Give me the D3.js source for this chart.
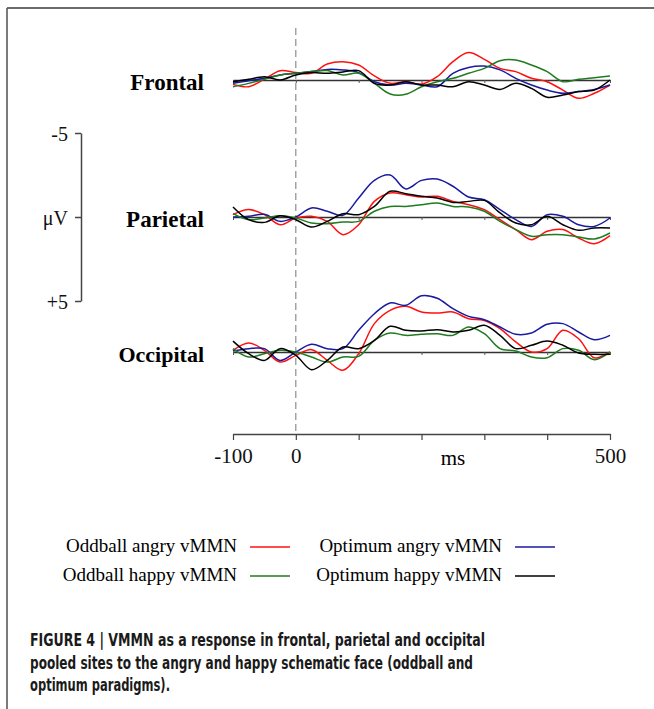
<!DOCTYPE html>
<html>
<head>
<meta charset="utf-8">
<script src="https://cdn.jsdelivr.net/npm/d3@7"></script>
<style>
  html, body { margin: 0; padding: 0; background: #fff; }
  svg { display: block; }
</style>
</head>
<body>
<div id="chart"></div>
<script>
// time points (ms) for every trace
var times = [-100, -75, -50, -25, 0, 25, 50, 75, 100, 125, 150, 175, 200,
  225, 250, 275, 300, 325, 350, 375, 400, 425, 450, 475, 500];

var panels = ["Frontal", "Parietal", "Occipital"];
var seriesNames = ["Oddball angry vMMN", "Optimum angry vMMN", "Oddball happy vMMN", "Optimum happy vMMN"];
var seriesColours = ["#ff1010", "#1a1aa0", "#207a20", "#000000"];

// amplitudes in microvolts (negative is drawn up)
var frontalOddAngry = [0.26, 0.40, -0.05, -0.55, -0.44, -0.40, -0.95, -1.09, -0.89, -0.24, 0.20, 0.10, 0.24,
  -0.20, -1.09, -1.63, -1.23, -0.69, -0.50, -0.10, 0.10, 0.60, 1.09, 0.79, 0.30];
var frontalOptAngry = [0.20, 0.04, -0.10, -0.30, -0.40, -0.50, -0.63, -0.60, -0.44, 0.10, 0.30, 0.20, 0.30,
  0.40, -0.40, -0.75, -0.83, -0.60, -0.10, 0.30, 0.60, 0.79, 0.69, 0.56, 0.30];
var frontalOddHappy = [0.40, 0.20, -0.04, -0.30, -0.40, -0.50, -0.56, -0.30, -0.40, 0.20, 0.83, 0.85, 0.40,
  0.10, -0.10, -0.40, -0.69, -1.15, -1.19, -0.89, -0.50, 0.10, -0.04, -0.14, -0.24];
var frontalOptHappy = [0.10, -0.04, -0.20, 0.00, -0.30, -0.44, -0.40, -0.48, -0.56, 0.20, 0.30, 0.10, 0.30,
  0.30, 0.40, 0.10, 0.30, 0.56, 0.20, 0.50, 1.03, 0.89, 0.69, 0.60, 0.00];

var parietalOddAngry = [-0.14, -0.44, -0.14, 0.46, 0.06, -0.04, 0.26, 1.05, 0.46, -0.93, -1.43, -1.33, -1.19,
  -1.23, -0.93, -0.73, -0.44, 0.16, 0.75, 1.35, 0.85, 0.75, 1.25, 1.59, 1.11];
var parietalOptAngry = [0.00, -0.04, -0.16, 0.26, 0.00, -0.54, -0.34, -0.10, -1.13, -2.18, -2.50, -1.67, -2.18,
  -2.26, -1.83, -1.19, -1.03, -0.44, 0.16, 0.56, -0.14, -0.04, 0.46, 0.56, 0.06];
var parietalOddHappy = [-0.20, 0.16, 0.06, -0.08, 0.06, 0.36, 0.40, 0.30, 0.26, -0.34, -0.63, -0.63, -0.73,
  -0.83, -0.63, -0.60, -0.34, 0.26, 0.75, 1.15, 1.05, 1.05, 1.19, 1.31, 0.95];
var parietalOptHappy = [-0.60, 0.16, 0.32, -0.08, 0.16, 0.60, 0.26, -0.20, -0.14, -0.63, -1.53, -1.39, -1.23,
  -1.13, -0.87, -0.93, -0.99, -0.24, 0.36, 0.46, -0.04, 0.46, 0.79, 0.65, 0.65];

var occipitalOddAngry = [-0.10, -0.54, -0.10, 0.60, 0.20, -0.14, 0.50, 1.09, 0.10, -1.69, -2.48, -2.72, -2.38,
  -2.32, -2.38, -1.98, -1.88, -1.39, -0.60, 0.00, -0.20, -1.29, -0.79, 0.34, 0.00];
var occipitalOptAngry = [-0.06, -0.20, -0.20, 0.50, 0.00, -0.46, -0.20, -0.20, -1.29, -2.28, -2.92, -2.78, -3.35,
  -3.20, -2.58, -2.12, -1.92, -1.49, -1.05, -1.13, -1.65, -1.69, -1.19, -0.73, -0.99];
var occipitalOddHappy = [-0.20, 0.30, 0.10, -0.10, 0.00, 0.30, 0.60, 0.30, 0.26, -0.69, -1.13, -0.99, -1.05,
  -1.09, -0.99, -1.49, -1.09, -0.20, -0.06, 0.30, 0.34, -0.20, -0.10, 0.46, 0.00];
var occipitalOptHappy = [-0.65, 0.10, 0.50, -0.20, 0.20, 1.05, 0.50, -0.30, -0.20, -0.69, -1.53, -1.29, -1.25,
  -1.33, -1.19, -1.29, -1.59, -0.99, -0.20, -0.40, -0.65, -0.40, 0.06, 0.14, 0.14];

var panelData = [
  [frontalOddAngry, frontalOptAngry, frontalOddHappy, frontalOptHappy],
  [parietalOddAngry, parietalOptAngry, parietalOddHappy, parietalOptHappy],
  [occipitalOddAngry, occipitalOptAngry, occipitalOddHappy, occipitalOptHappy]
];

var xTicks = [-100, 0, 100, 200, 300, 400, 500];
var xTickLabels = {"-100": "-100", "0": "0", "500": "500"};
var scaleTicks = [-5, 0, 5];
var scaleLabels = ["-5", "\u03bcV", "+5"];

var captionLines = [
  "FIGURE 4 | VMMN as a response in frontal, parietal and occipital",
  "pooled sites to the angry and happy schematic face (oddball and",
  "optimum paradigms)."
];

var width = 654, height = 709;
var serif = "'Liberation Serif', 'Times New Roman', serif";

var svg = d3.select("#chart")
  .append("svg")
  .attr("width", width)
  .attr("height", height);

// frame: top and left rules
svg.append("line").attr("x1", 7).attr("x2", width).attr("y1", 8).attr("y2", 8)
  .attr("stroke", "#3a3a3a").attr("stroke-width", 1.6);
svg.append("line").attr("x1", 7).attr("x2", 7).attr("y1", 8).attr("y2", height)
  .attr("stroke", "#5a5a5a").attr("stroke-width", 1.6);

var x = d3.scaleLinear().domain([-100, 500]).range([233, 610]);
var baselines = [80, 217, 352];
var halfSpan = 84; // pixels for 5 microvolts

// stimulus onset
svg.append("line")
  .attr("x1", x(0)).attr("x2", x(0))
  .attr("y1", 28).attr("y2", 434)
  .attr("stroke", "#777").attr("stroke-width", 1)
  .attr("stroke-dasharray", "7,4");

var line = d3.line().curve(d3.curveCatmullRom.alpha(0.5));

panels.forEach(function (name, i) {
  var b = baselines[i];
  var y = d3.scaleLinear().domain([-5, 5]).range([b - halfSpan, b + halfSpan]);

  // baseline with small ticks every 100 ms
  svg.append("g")
    .attr("transform", "translate(0," + y(0) + ")")
    .call(d3.axisBottom(x).tickValues(xTicks).tickSize(3).tickSizeOuter(0).tickFormat(""))
    .call(function (g) {
      g.select(".domain").attr("stroke", "#333").attr("stroke-width", 1.6);
      g.selectAll(".tick line").attr("stroke", "#555").attr("stroke-width", 1);
    });

  panelData[i].forEach(function (vals, k) {
    svg.append("path")
      .datum(vals)
      .attr("fill", "none")
      .attr("stroke", seriesColours[k])
      .attr("stroke-width", 1.5)
      .attr("d", line.x(function (d, j) { return x(times[j]); }).y(function (d) { return y(d); }));
  });

  svg.append("text")
    .attr("x", 204).attr("y", b + 10)
    .attr("text-anchor", "end")
    .style("font-family", serif)
    .style("font-weight", "bold")
    .style("font-size", i == 2 ? "22px" : "23px")
    .text(name);
});

// amplitude scale bar
var yScale = d3.scaleLinear().domain([-5, 5]).range([baselines[1] - halfSpan, baselines[1] + halfSpan]);
svg.append("g")
  .attr("transform", "translate(81,0)")
  .call(d3.axisLeft(yScale).tickValues(scaleTicks).tickSize(6).tickSizeOuter(0)
    .tickFormat(function (d, j) { return scaleLabels[j]; }))
  .call(function (g) {
    g.select(".domain").attr("stroke", "#444").attr("stroke-width", 1.5);
    g.selectAll(".tick line").attr("stroke", "#444").attr("stroke-width", 1.5);
    g.selectAll(".tick text")
      .attr("x", -13)
      .attr("dy", "0.36em")
      .style("font-family", serif)
      .style("font-size", "20px")
      .attr("fill", "#111");
  });

// time axis
svg.append("g")
  .attr("transform", "translate(0,434)")
  .call(d3.axisBottom(x).tickValues(xTicks).tickSize(6).tickSizeOuter(0)
    .tickFormat(function (d) { return xTickLabels[d] || ""; }))
  .call(function (g) {
    g.select(".domain").attr("stroke", "#444").attr("stroke-width", 1.6);
    g.selectAll(".tick line").attr("stroke", "#444").attr("stroke-width", 1.2);
    g.selectAll(".tick text")
      .attr("y", 14)
      .style("font-family", serif)
      .style("font-size", "21px")
      .attr("fill", "#111");
  });
svg.append("text")
  .attr("x", 453).attr("y", 465)
  .attr("text-anchor", "middle")
  .style("font-family", serif)
  .style("font-size", "21px")
  .text("ms");

// legend
var legendPos = [[237, 552], [502, 552], [237, 581], [502, 581]];
seriesNames.forEach(function (name, k) {
  var p = legendPos[k];
  svg.append("text")
    .attr("x", p[0]).attr("y", p[1])
    .attr("text-anchor", "end")
    .style("font-family", serif)
    .style("font-size", "19px")
    .text(name);
  svg.append("line")
    .attr("x1", p[0] + 13).attr("x2", p[0] + 53)
    .attr("y1", p[1] - 5).attr("y2", p[1] - 5)
    .attr("stroke", seriesColours[k])
    .attr("stroke-width", 1.6);
});

// caption
var captionWidths = [455, 443, 140];
captionLines.forEach(function (t, i) {
  var txt = svg.append("text")
    .attr("x", 30).attr("y", 646 + i * 22.5)
    .style("font-family", "'Liberation Sans Narrow', 'DejaVu Sans Condensed', Arial, sans-serif")
    .style("font-weight", "bold")
    .style("font-size", "18.5px")
    .attr("fill", "#1a1a1a")
    .text(t);
  var w = txt.node().getComputedTextLength();
  if (Math.abs(w - captionWidths[i]) > 3) {
    txt.attr("textLength", captionWidths[i]).attr("lengthAdjust", "spacingAndGlyphs");
  }
});
</script>
</body>
</html>
